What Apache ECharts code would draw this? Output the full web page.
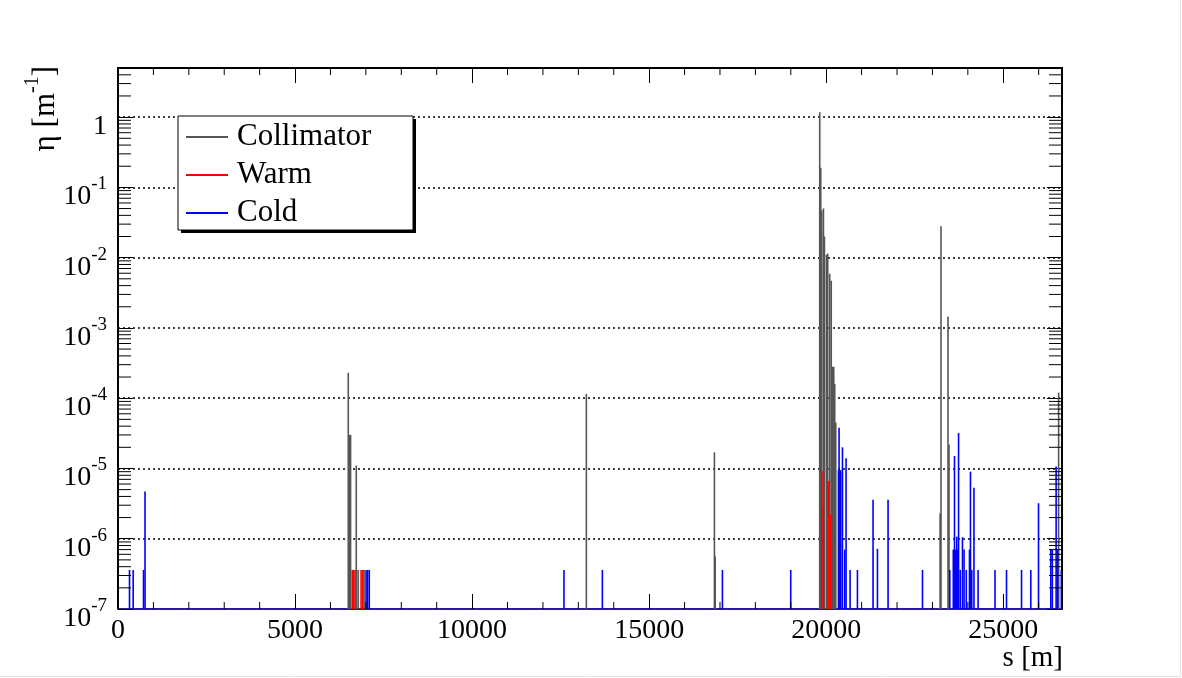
<!DOCTYPE html>
<html>
<head>
<meta charset="utf-8">
<title>Loss map</title>
<script src="https://cdn.jsdelivr.net/npm/echarts@6/dist/echarts.min.js"></script>
<style>
	html, body { margin: 0; padding: 0; background: #fff; }
	#main { width: 1182px; height: 678px; }
</style>
</head>
<body>
<div id="main"></div>
<script>
// s [m] along the ring and eta [1/m] for every spike
var collimatorS   = [6503, 6540, 6568, 6729, 6781, 6950, 13227, 16843, 16865,
	19817, 19846, 19874, 19922, 19950, 20006, 20043, 20100, 20142, 20184, 20213, 20241, 20270,
	23217, 23242, 23440, 23468, 26564];
var collimatorEta = [2.3e-4, 3.0e-5, 3.0e-5, 1.1e-5, 3.6e-7, 3.6e-7, 1.15e-4, 1.7e-5, 5.6e-7,
	1.17, 0.19, 0.047, 0.05, 0.02, 0.011, 0.0115, 0.0059, 0.0047, 2.8e-4, 2.8e-4, 1.6e-4, 4.5e-5,
	2.3e-6, 0.028, 1.45e-3, 2.2e-5, 1.2e-4];

var warmS   = [6616, 6653, 6695, 6865, 6913, 19882, 19916, 20072, 20114];
var warmEta = [3.6e-7, 3.6e-7, 3.6e-7, 3.6e-7, 3.6e-7, 9.2e-6, 2.9e-6, 6.6e-6, 2.2e-6];

var coldS   = [325, 429, 720, 763, 7006, 7048, 7096, 12594, 13679, 17069, 18998,
	20346, 20363, 20391, 20411, 20459, 20524, 20561, 20674, 20882, 21323, 21447, 21747, 22719,
	23490, 23589, 23623, 23659, 23687, 23715, 23738, 23786, 23848, 23893, 23956,
	24046, 24074, 24111, 24173, 24289, 24767, 25092, 25516, 25778, 25996,
	26343, 26386, 26493, 26533, 26640];
var coldEta = [3.6e-7, 3.6e-7, 3.6e-7, 4.7e-6, 3.6e-7, 3.6e-7, 3.6e-7, 3.6e-7, 3.6e-7, 3.6e-7, 3.6e-7,
	9.4e-6, 3.8e-5, 9.4e-6, 9.4e-6, 2.0e-5, 7e-7, 1.4e-5, 3.6e-7, 3.6e-7, 3.6e-6, 7.2e-7, 3.6e-6, 3.6e-7,
	3.6e-7, 7e-7, 1.5e-5, 7e-7, 1.07e-6, 7e-7, 3.2e-5, 3.6e-7, 1.05e-6, 7e-7, 3.6e-7,
	7e-7, 9e-6, 3.6e-7, 5.3e-6, 3.6e-7, 3.6e-7, 3.6e-7, 3.6e-7, 3.6e-7, 3.2e-6,
	7e-7, 7e-7, 1.07e-5, 7e-7, 3.6e-7];

var seriesNames = ['Collimator', 'Warm', 'Cold'];
var seriesColors = ['#555555', '#ff0000', '#0000ff'];

var xMin = 0, xMax = 26659, xStep = 5000;
var yMin = 1e-7, yMax = 5;

var FONT = 'Liberation Serif';

(function(){

	init();

	function init(){
		var chart = echarts.init(document.getElementById('main'));

		function pairs(xs, ys){
			return xs.map(function(s, i){ return [s, ys[i]]; });
		}

		// minor ticks: every 1000 m, and 2..9 in each decade
		var xMinor = [];
		for (var s = 1000; s < xMax; s += 1000) {
			if (s % xStep !== 0) xMinor.push([s, yMin]);
		}
		var yMinor = [];
		for (var e = -7; e <= 0; e++) {
			for (var k = 2; k <= 9; k++) {
				var v = k * Math.pow(10, e);
				if (v < yMax) yMinor.push([xMin, v]);
			}
		}

		// one spike = thin rect from the floor up to the value
		function spikeItem(params, api){
			var top = api.coord([api.value(0), api.value(1)]);
			var base = api.coord([api.value(0), yMin]);
			return {
				type: 'rect',
				shape: { x: top[0] - 0.8, y: top[1], width: 1.6, height: base[1] - top[1] },
				style: { fill: api.visual('color') }
			};
		}

		function xTickItem(params, api){
			var b = api.coord([api.value(0), yMin]);
			var t = api.coord([api.value(0), yMax]);
			return { type: 'group', children: [
				{ type: 'line', shape: { x1: b[0], y1: b[1], x2: b[0], y2: b[1] - 7 }, style: { stroke: '#000', lineWidth: 1 } },
				{ type: 'line', shape: { x1: t[0], y1: t[1], x2: t[0], y2: t[1] + 7 }, style: { stroke: '#000', lineWidth: 1 } }
			]};
		}

		function yTickItem(params, api){
			var l = api.coord([xMin, api.value(1)]);
			var r = api.coord([xMax, api.value(1)]);
			return { type: 'group', children: [
				{ type: 'line', shape: { x1: l[0], y1: l[1], x2: l[0] + 13, y2: l[1] }, style: { stroke: '#000', lineWidth: 1 } },
				{ type: 'line', shape: { x1: r[0], y1: r[1], x2: r[0] - 13, y2: r[1] }, style: { stroke: '#000', lineWidth: 1 } }
			]};
		}

		function yLabel(v){
			var lg = Math.log(v) / Math.LN10;
			var ex = Math.round(lg);
			if (Math.abs(lg - ex) > 1e-6) return '';
			if (ex === 0) return '{b|1}';
			return '{b|10}{s|' + ex + '}';
		}

		var frameLine = { show: true, onZero: false, lineStyle: { color: '#000', width: 2 } };
		var majorTick = { show: true, inside: true, length: 15, lineStyle: { color: '#000', width: 1 } };

		var opt = {
			animation: false,
			backgroundColor: '#fff',
			grid: { left: 118, right: 120, top: 68, bottom: 69, containLabel: false, outerBoundsMode: 'none' },
			legend: {
				data: seriesNames.map(function(n){ return { name: n, icon: 'rect' }; }),
				orient: 'vertical',
				left: 178,
				top: 116,
				itemWidth: 42,
				itemHeight: 2,
				itemGap: 0,
				padding: [2, 40, 0, 8],
				selectedMode: false,
				textStyle: { fontFamily: FONT, fontSize: 31, color: '#000', lineHeight: 38, padding: [0, 0, 0, 4] }
			},
			xAxis: [
				{
					type: 'value', min: xMin, max: xMax, interval: xStep, position: 'bottom',
					axisLine: { show: true, onZero: false, lineStyle: { color: '#2a1a9e', width: 2 } },
					axisTick: majorTick,
					axisLabel: {
						margin: 8, fontFamily: FONT, fontSize: 28, color: '#000',
						formatter: function(v){ return v % xStep === 0 ? String(v) : ''; }
					},
					splitLine: { show: false }
				},
				{
					type: 'value', min: xMin, max: xMax, interval: xStep, position: 'top',
					axisLine: frameLine, axisTick: majorTick,
					axisLabel: { show: false }, splitLine: { show: false }
				}
			],
			yAxis: [
				{
					type: 'log', min: yMin, max: yMax, position: 'left',
					axisLine: frameLine, axisTick: majorTick,
					minorTick: { show: false },
					axisLabel: {
						margin: 11, color: '#000', padding: [11, 0, 0, 0],
						formatter: yLabel,
						rich: {
							b: { fontFamily: FONT, fontSize: 28, color: '#000', padding: [8, 0, 0, 0], verticalAlign: 'bottom' },
							s: { fontFamily: FONT, fontSize: 19, color: '#000', verticalAlign: 'top' }
						}
					},
					splitLine: { show: true, lineStyle: { color: '#000', width: 1.5, type: [2, 3] } }
				},
				{
					type: 'log', min: yMin, max: yMax, position: 'right',
					axisLine: frameLine, axisTick: majorTick,
					minorTick: { show: false },
					axisLabel: { show: false }, splitLine: { show: false }
				}
			],
			series: [
				{ name: 'Collimator', type: 'custom', renderItem: spikeItem, itemStyle: { color: seriesColors[0] },
				  data: pairs(collimatorS, collimatorEta), clip: true, silent: true },
				{ name: 'Warm', type: 'custom', renderItem: spikeItem, itemStyle: { color: seriesColors[1] },
				  data: pairs(warmS, warmEta), clip: true, silent: true },
				{ name: 'Cold', type: 'custom', renderItem: spikeItem, itemStyle: { color: seriesColors[2] },
				  data: pairs(coldS, coldEta), clip: true, silent: true },
				{ name: 'xticks', type: 'custom', renderItem: xTickItem, data: xMinor, silent: true, z: 5 },
				{ name: 'yticks', type: 'custom', renderItem: yTickItem, data: yMinor, silent: true, z: 5 }
			],
			graphic: [
				// legend box with its drop shadow
				{ type: 'rect', silent: true, z: 3, shape: { x: 181, y: 119, width: 235, height: 114 }, style: { fill: '#000' } },
				{ type: 'rect', silent: true, z: 3, shape: { x: 178, y: 116, width: 235, height: 114 }, style: { fill: '#fff', stroke: '#000', lineWidth: 1 } },
				{
					type: 'text', x: 1063, y: 658, silent: true,
					style: { text: 's [m]', fontFamily: FONT, fontSize: 29, fill: '#000', align: 'right', verticalAlign: 'middle' }
				},
				{
					type: 'text', x: 42, y: 66, rotation: Math.PI / 2, silent: true,
					style: {
						text: '{b|\u03b7 [m}{s|-1}{b|]}', align: 'right', verticalAlign: 'middle',
						rich: {
							b: { fontFamily: FONT, fontSize: 31, fill: '#000', padding: [8, 0, 0, 0], verticalAlign: 'bottom' },
							s: { fontFamily: FONT, fontSize: 20, fill: '#000', verticalAlign: 'top' }
						}
					}
				},
				{ type: 'line', silent: true, shape: { x1: 1180.5, y1: 0, x2: 1180.5, y2: 677 }, style: { stroke: '#e4e4e4', lineWidth: 1 } },
				{ type: 'line', silent: true, shape: { x1: 0, y1: 676.5, x2: 1181, y2: 676.5 }, style: { stroke: '#e4e4e4', lineWidth: 1 } }
			]
		};
		chart.setOption(opt);
	}

})();
</script>
</body>
</html>
